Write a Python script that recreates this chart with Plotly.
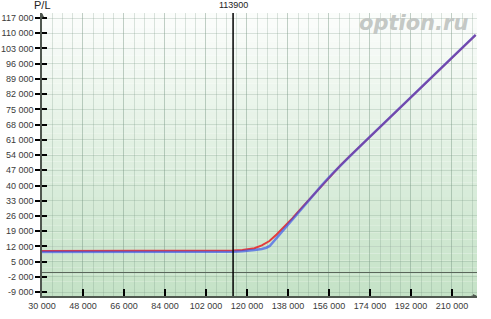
import plotly.graph_objects as go

# ---- data ----
x_ticks = [30000, 48000, 66000, 84000, 102000, 120000, 138000, 156000, 174000, 192000, 210000]
x_tick_text = ["30 000", "48 000", "66 000", "84 000", "102 000", "120 000", "138 000",
               "156 000", "174 000", "192 000", "210 000"]
y_ticks = [-9000, -2000, 5000, 12000, 19000, 26000, 33000, 40000, 47000, 54000, 61000,
           68000, 75000, 82000, 89000, 96000, 103000, 110000, 117000]
y_tick_text = ["-9 000", "-2 000", "5 000", "12 000", "19 000", "26 000", "33 000", "40 000",
               "47 000", "54 000", "61 000", "68 000", "75 000", "82 000", "89 000", "96 000",
               "103 000", "110 000", "117 000"]

spot = 113900

red_x = [30000, 60000, 90000, 105000, 110000, 113900, 118000, 121000, 123300, 126500, 129860,
         133000, 136430, 140000, 143000, 146500, 149560, 153000, 157450, 161000, 165000,
         172210, 186790, 200000, 210000, 220400]
red_y = [9900, 9900, 9900, 9920, 9970, 10060, 10350, 10700, 11150, 12500, 14460,
         17500, 21040, 25000, 28600, 32600, 36300, 40300, 45300, 49200, 53300,
         60600, 75300, 88600, 98800, 109200]

blue_x = [30000, 60000, 90000, 105000, 110000, 113900, 118000, 121000, 123300, 126500, 128500,
          130000, 133000, 136430, 140000, 143000, 146500, 149560, 153000, 157450, 161000,
          165000, 172210, 186790, 200000, 210000, 220400]
blue_y = [9400, 9400, 9400, 9420, 9470, 9560, 9750, 10000, 10300, 10850, 11400,
          12200, 15900, 20100, 24500, 28200, 32400, 36200, 40300, 45300, 49200,
          53300, 60600, 75300, 88600, 98800, 109200]

x_range = [30000, 221000]
y_range = [-10800, 119300]

fig = go.Figure()
fig.add_trace(go.Scatter(x=red_x, y=red_y, mode="lines",
                         line=dict(color="rgb(228,60,60)", width=2), hoverinfo="skip"))
fig.add_trace(go.Scatter(x=blue_x, y=blue_y, mode="lines",
                         line=dict(color="rgba(50,80,235,0.65)", width=2.5), hoverinfo="skip"))
fig.add_trace(go.Scatter(x=[], y=[], yaxis="y2", showlegend=False))

# background gradient (white at top -> light green at bottom)
shapes = []
n = 40
top = (252, 253, 252)
bot = (196, 226, 198)
for i in range(n):
    t = 1 - (i + 0.5) / n
    c = tuple(int(round(top[k] * (1 - t) + bot[k] * t)) for k in range(3))
    shapes.append(dict(type="rect", xref="paper", yref="paper", x0=0, x1=1,
                       y0=i / n, y1=(i + 1) / n, fillcolor="rgb(%d,%d,%d)" % c,
                       line=dict(width=0), layer="below"))
shapes.append(dict(type="line", xref="x", yref="paper", x0=spot, x1=spot, y0=0, y1=1,
                   line=dict(color="black", width=1.5), layer="above"))

grid_col = "rgba(120,150,130,0.26)"
axis_col = "#505850"
font = dict(family="Liberation Sans, Arial, sans-serif", size=9, color="#3a3a3a")

fig.update_layout(
    width=491, height=319,
    margin=dict(l=42, r=14, t=13, b=23),
    paper_bgcolor="white", plot_bgcolor="white",
    showlegend=False,
    shapes=shapes,
    font=font,
    xaxis=dict(range=x_range, tickmode="array", tickvals=x_ticks, ticktext=x_tick_text,
               showgrid=True, gridcolor=grid_col, gridwidth=1,
               minor=dict(tickmode="linear", tick0=30000, dtick=4500, showgrid=True,
                          gridcolor=grid_col, gridwidth=1, ticks=""),
               ticks="inside", ticklen=7, tickwidth=1.5, tickcolor="black",
               showline=True, linecolor=axis_col, linewidth=1.5, automargin=False,
               zeroline=False, tickfont=font, fixedrange=True),
    yaxis=dict(range=y_range, tickmode="array", tickvals=y_ticks, ticktext=y_tick_text,
               showgrid=True, gridcolor=grid_col, gridwidth=1,
               ticks="outside", ticklen=5, tickwidth=1.5, tickcolor="black",
               showline=True, linecolor=axis_col, linewidth=1.5, automargin=False,
               zeroline=True, zerolinecolor="#5a665a", zerolinewidth=1.2,
               tickfont=font, fixedrange=True),
    yaxis2=dict(range=y_range, overlaying="y", side="left", tickmode="array",
                tickvals=y_ticks, showticklabels=False, showgrid=False, zeroline=False,
                ticks="inside", ticklen=5, tickwidth=1.5, tickcolor="black",
                showline=False, fixedrange=True, automargin=False),
    annotations=[
        dict(text="option.ru", xref="paper", yref="paper", x=0.855, y=0.965,
             xanchor="center", yanchor="middle", showarrow=False,
             font=dict(family="DejaVu Sans", size=21, color="rgb(196,200,197)",
                       weight="bold", style="italic")),
        dict(text="113900", xref="x", yref="paper", x=spot, y=1, yanchor="bottom",
             yshift=1, showarrow=False,
             font=dict(family="Liberation Sans, Arial, sans-serif", size=9, color="#222")),
        dict(text="P/L", xref="paper", yref="paper", x=0, y=1, yanchor="bottom",
             xanchor="center", yshift=0, showarrow=False,
             font=dict(family="Liberation Sans, Arial, sans-serif", size=11, color="#222")),
        dict(text="", xref="paper", yref="paper", x=0, y=1, ax=0, ay=7, showarrow=True,
             arrowhead=2, arrowsize=0.8, arrowwidth=1, arrowcolor=axis_col),
        dict(text="", xref="paper", yref="paper", x=1, y=0, ax=-7, ay=0, showarrow=True,
             arrowhead=2, arrowsize=0.8, arrowwidth=1, arrowcolor=axis_col),
    ],
)

fig.write_html("out.html")
